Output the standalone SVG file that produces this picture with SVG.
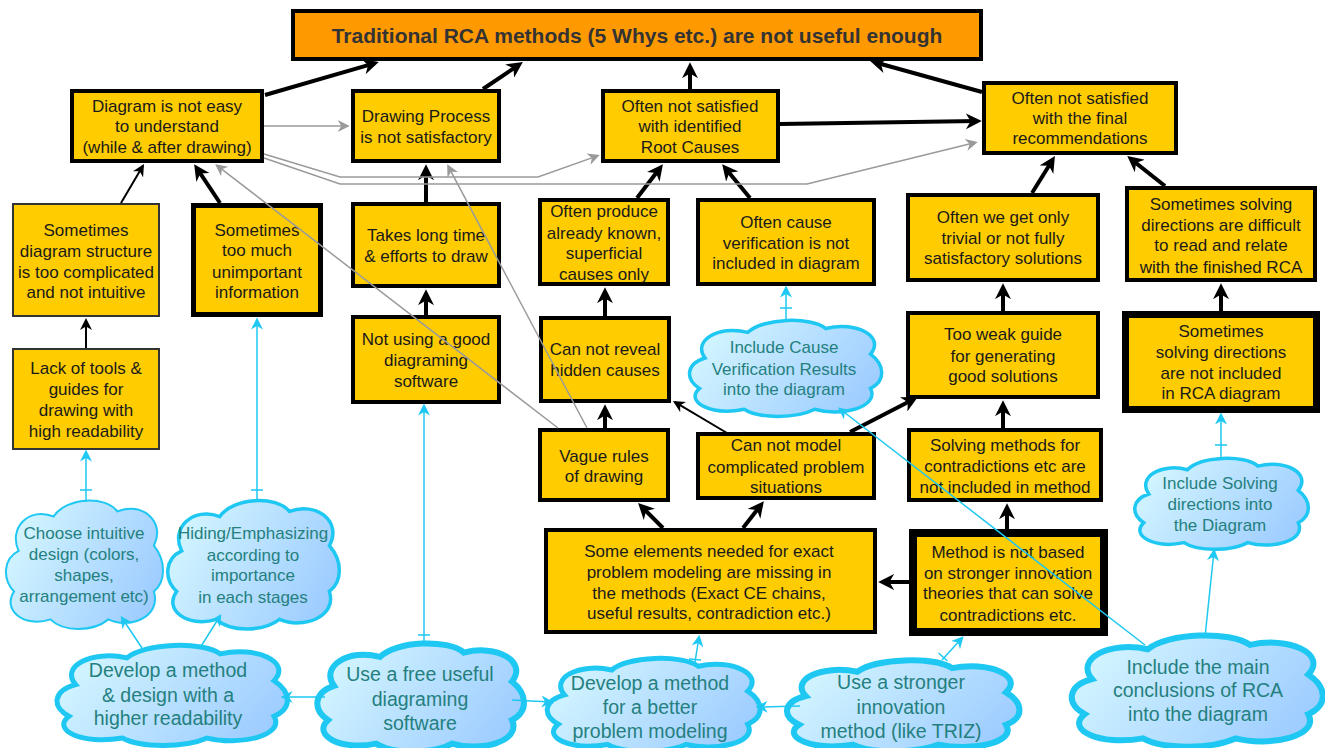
<svg xmlns="http://www.w3.org/2000/svg" xmlns:xlink="http://www.w3.org/1999/xlink" width="1325" height="748" viewBox="0 0 1325 748">
<style>
.bx{fill:#FFCC00;stroke:#000;stroke-width:4}
.thin{stroke:#333;stroke-width:2}
.w5{stroke-width:5}.w7{stroke-width:7}.w8{stroke-width:8}
.title{fill:#FF9900;stroke:#000;stroke-width:4}
text{font-family:"Liberation Sans",Arial,sans-serif;text-anchor:middle}
.t{font-size:17px;fill:#1a1a1a}
.tt{font-size:21px;font-weight:bold;fill:#333}
.ct{font-size:17px;fill:#24807E}
.cb{font-size:19.5px;fill:#24807E}
.cl{fill:url(#cg);stroke:#1EC8F2}
.k{fill:none;stroke:#000;stroke-width:4;marker-end:url(#ab)}
.kt{fill:none;stroke:#000;stroke-width:2;marker-end:url(#at)}
.g{fill:none;stroke:#9a9a9a;stroke-width:1.5;marker-end:url(#ag)}
.c{fill:none;stroke:#1EC8F2;stroke-width:1.5;marker-end:url(#ac)}
.tk{fill:none;stroke:#1EC8F2;stroke-width:1.5}
</style>
<defs>
<linearGradient id="cg" x1="0" y1="0.3" x2="1" y2="0.7">
<stop offset="0" stop-color="#D4F6FF"/>
<stop offset="1" stop-color="#9CCBFF"/>
</linearGradient>
<path id="cloud" vector-effect="non-scaling-stroke" d="M7,40 C0,22 14,5 30,13 C38,-2 64,-4 72,9 C88,1 104,17 96,36 C104,48 104,64 96,72 C101,92 80,102 66,94 C56,104 36,104 28,94 C10,101 -4,86 4,72 C-4,62 -3,46 7,40 Z"/>
<marker id="ab" viewBox="0 0 10 10" refX="7" refY="5" markerWidth="4" markerHeight="4" orient="auto" markerUnits="strokeWidth"><path d="M0,0 L10,5 L0,10 L3,5 Z" fill="#000"/></marker>
<marker id="at" viewBox="0 0 10 10" refX="8" refY="5" markerWidth="6" markerHeight="6" orient="auto" markerUnits="strokeWidth"><path d="M0,0 L10,5 L0,10 L3,5 Z" fill="#000"/></marker>
<marker id="ag" viewBox="0 0 10 10" refX="8" refY="5" markerWidth="9" markerHeight="8" orient="auto" markerUnits="strokeWidth"><path d="M0,0 L10,5 L0,10 L3,5 Z" fill="#9a9a9a"/></marker>
<marker id="ac" viewBox="0 0 10 10" refX="8" refY="5" markerWidth="9" markerHeight="8" orient="auto" markerUnits="strokeWidth"><path d="M0,0 L10,5 L0,10 L3,5 Z" fill="#1EC8F2"/></marker>
</defs>
<rect width="1325" height="748" fill="#fff"/>

<g id="title">
<rect class="title" x="293" y="11" width="688" height="48"/>
<text class="tt" x="637" y="43">Traditional RCA methods (5 Whys etc.) are not useful enough</text>
</g>

<g id="nA"><rect class="bx" x="72" y="91" width="190" height="70"/>
<text class="t"><tspan x="167" y="112">Diagram is not easy</tspan><tspan x="167" y="132">to understand</tspan><tspan x="167" y="153">(while &amp; after drawing)</tspan></text></g>

<g id="nB"><rect class="bx" x="353" y="91" width="146" height="70"/>
<text class="t"><tspan x="426" y="122">Drawing Process</tspan><tspan x="426" y="143">is not satisfactory</tspan></text></g>

<g id="nC"><rect class="bx" x="603" y="91" width="175" height="70"/>
<text class="t"><tspan x="690" y="112">Often not satisfied</tspan><tspan x="690" y="132">with identified</tspan><tspan x="690" y="153">Root Causes</tspan></text></g>

<g id="nD"><rect class="bx" x="984" y="83" width="192" height="70"/>
<text class="t"><tspan x="1080" y="104">Often not satisfied</tspan><tspan x="1080" y="124">with the final</tspan><tspan x="1080" y="144">recommendations</tspan></text></g>

<g id="nE"><rect class="bx thin" x="13" y="204" width="146" height="112"/>
<text class="t"><tspan x="86" y="236">Sometimes</tspan><tspan x="86" y="257">diagram structure</tspan><tspan x="86" y="278">is too complicated</tspan><tspan x="86" y="298">and not intuitive</tspan></text></g>

<g id="nF"><rect class="bx w5" x="193.5" y="205.5" width="127" height="109"/>
<text class="t"><tspan x="257" y="236">Sometimes</tspan><tspan x="257" y="256">too much</tspan><tspan x="257" y="278">unimportant</tspan><tspan x="257" y="298">information</tspan></text></g>

<g id="nG"><rect class="bx" x="353" y="204" width="146" height="82"/>
<text class="t"><tspan x="426" y="241">Takes long time</tspan><tspan x="426" y="262">&amp; efforts to draw</tspan></text></g>

<g id="nH"><rect class="bx" x="540" y="200" width="128" height="84"/>
<text class="t"><tspan x="604" y="217">Often produce</tspan><tspan x="604" y="239">already known,</tspan><tspan x="604" y="259">superficial</tspan><tspan x="604" y="280">causes only</tspan></text></g>

<g id="nI"><rect class="bx" x="698" y="200" width="176" height="84"/>
<text class="t"><tspan x="786" y="228">Often cause</tspan><tspan x="786" y="249">verification is not</tspan><tspan x="786" y="269">included in diagram</tspan></text></g>

<g id="nJ"><rect class="bx" x="908" y="195" width="190" height="85"/>
<text class="t"><tspan x="1003" y="223">Often we get only</tspan><tspan x="1003" y="244">trivial or not fully</tspan><tspan x="1003" y="264">satisfactory solutions</tspan></text></g>

<g id="nK"><rect class="bx" x="1127" y="188" width="188" height="92"/>
<text class="t"><tspan x="1221" y="210">Sometimes solving</tspan><tspan x="1221" y="231">directions are difficult</tspan><tspan x="1221" y="251">to read and relate</tspan><tspan x="1221" y="273">with the finished RCA</tspan></text></g>

<g id="nL"><rect class="bx thin" x="13" y="349" width="146" height="100"/>
<text class="t"><tspan x="86" y="374">Lack of tools &amp;</tspan><tspan x="86" y="395">guides for</tspan><tspan x="86" y="416">drawing with</tspan><tspan x="86" y="437">high readability</tspan></text></g>

<g id="nM"><rect class="bx" x="353" y="317" width="146" height="85"/>
<text class="t"><tspan x="426" y="345">Not using a good</tspan><tspan x="426" y="366">diagraming</tspan><tspan x="426" y="387">software</tspan></text></g>

<g id="nN"><rect class="bx" x="541" y="318" width="128" height="83"/>
<text class="t"><tspan x="605" y="355">Can not reveal</tspan><tspan x="605" y="376">hidden causes</tspan></text></g>

<g id="nP"><rect class="bx" x="908" y="313" width="190" height="84"/>
<text class="t"><tspan x="1003" y="340">Too weak guide</tspan><tspan x="1003" y="362">for generating</tspan><tspan x="1003" y="382">good solutions</tspan></text></g>

<g id="nQ"><rect class="bx w7" x="1125.5" y="314.5" width="191" height="95"/>
<text class="t"><tspan x="1221" y="337">Sometimes</tspan><tspan x="1221" y="358">solving directions</tspan><tspan x="1221" y="379">are not included</tspan><tspan x="1221" y="399">in RCA diagram</tspan></text></g>

<g id="nR"><rect class="bx" x="540" y="430" width="128" height="70"/>
<text class="t"><tspan x="604" y="462">Vague rules</tspan><tspan x="604" y="482">of drawing</tspan></text></g>

<g id="nS"><rect class="bx" x="698" y="434" width="176" height="64"/>
<text class="t"><tspan x="786" y="451">Can not model</tspan><tspan x="786" y="473">complicated problem</tspan><tspan x="786" y="493">situations</tspan></text></g>

<g id="nT"><rect class="bx" x="909" y="430" width="192" height="70"/>
<text class="t"><tspan x="1005" y="451">Solving methods for</tspan><tspan x="1005" y="472">contradictions etc are</tspan><tspan x="1005" y="493">not included in method</tspan></text></g>

<g id="nU"><rect class="bx" x="546" y="530" width="329" height="102"/>
<text class="t"><tspan x="709" y="557">Some elements needed for exact</tspan><tspan x="709" y="578">problem modeling are missing in</tspan><tspan x="709" y="599">the methods (Exact CE chains,</tspan><tspan x="709" y="619">useful results, contradiction etc.)</tspan></text></g>

<g id="nV"><rect class="bx w8" x="913" y="533" width="191" height="99"/>
<text class="t"><tspan x="1008" y="558">Method is not based</tspan><tspan x="1008" y="579">on stronger innovation</tspan><tspan x="1008" y="599">theories that can solve</tspan><tspan x="1008" y="621">contradictions etc.</tspan></text></g>

<g id="cC1"><use xlink:href="#cloud" href="#cloud" class="cl" stroke-width="2" transform="translate(8,500) scale(1.52,1.27)"/>
<text class="ct"><tspan x="84" y="539">Choose intuitive</tspan><tspan x="84" y="560">design (colors,</tspan><tspan x="84" y="581">shapes,</tspan><tspan x="84" y="602">arrangement etc)</tspan></text></g>

<g id="cC2"><use xlink:href="#cloud" href="#cloud" class="cl" stroke-width="3.5" transform="translate(170,500) scale(1.66,1.27)"/>
<text class="ct"><tspan x="253" y="539">Hiding/Emphasizing</tspan><tspan x="253" y="561">according to</tspan><tspan x="253" y="581">importance</tspan><tspan x="253" y="603">in each stages</tspan></text></g>

<g id="cO"><use xlink:href="#cloud" href="#cloud" class="cl" stroke-width="3.5" transform="translate(692,320) scale(1.86,0.95)"/>
<text class="ct"><tspan x="784" y="353">Include Cause</tspan><tspan x="784" y="375">Verification Results</tspan><tspan x="784" y="395">into the diagram</tspan></text></g>

<g id="cC8"><use xlink:href="#cloud" href="#cloud" class="cl" stroke-width="3.5" transform="translate(1137,458) scale(1.68,0.9)"/>
<text class="ct"><tspan x="1220" y="489">Include Solving</tspan><tspan x="1220" y="510">directions into</tspan><tspan x="1220" y="531">the Diagram</tspan></text></g>

<g id="cC3"><use xlink:href="#cloud" href="#cloud" class="cl" stroke-width="5" transform="translate(60,645) scale(2.23,0.99)"/>
<text class="cb"><tspan x="168" y="677">Develop a method</tspan><tspan x="168" y="702">&amp; design with a</tspan><tspan x="168" y="725">higher readability</tspan></text></g>

<g id="cC4"><use xlink:href="#cloud" href="#cloud" class="cl" stroke-width="6" transform="translate(320,643) scale(2.0,1.07)"/>
<text class="cb"><tspan x="420" y="681">Use a free useful</tspan><tspan x="420" y="706">diagraming</tspan><tspan x="420" y="730">software</tspan></text></g>

<g id="cC5"><use xlink:href="#cloud" href="#cloud" class="cl" stroke-width="5" transform="translate(550,658) scale(2.06,0.92)"/>
<text class="cb"><tspan x="650" y="690">Develop a method</tspan><tspan x="650" y="714">for a better</tspan><tspan x="650" y="738">problem modeling</tspan></text></g>

<g id="cC6"><use xlink:href="#cloud" href="#cloud" class="cl" stroke-width="6" transform="translate(790,660) scale(2.25,0.9)"/>
<text class="cb"><tspan x="901" y="689">Use a stronger</tspan><tspan x="901" y="714">innovation</tspan><tspan x="901" y="738">method (like TRIZ)</tspan></text></g>

<g id="cC7"><use xlink:href="#cloud" href="#cloud" class="cl" stroke-width="6" transform="translate(1075,635) scale(2.43,1.1)"/>
<text class="cb"><tspan x="1198" y="674">Include the main</tspan><tspan x="1198" y="697">conclusions of RCA</tspan><tspan x="1198" y="721">into the diagram</tspan></text></g>

<g id="connectors">
<path class="k" d="M265,95 L374.2,63.4"/>
<path class="k" d="M483,89 L518.9,64.8"/>
<path class="k" d="M690,89 L690,67"/>
<path class="k" d="M982,92 L874.8,62.3"/>
<path class="k" d="M780,124 L977,121.1"/>
<path class="k" d="M220,203 L196.8,168.2"/>
<path class="k" d="M426,202 L426,169"/>
<path class="k" d="M426,315 L426,294"/>
<path class="k" d="M637,198 L660,168"/>
<path class="k" d="M750,198 L725.2,167.9"/>
<path class="k" d="M605,316 L605,292"/>
<path class="k" d="M605,428 L605,409"/>
<path class="k" d="M850,432 L913.6,399.3"/>
<path class="k" d="M663,528 L641.5,506.5"/>
<path class="k" d="M743,528 L760.9,505"/>
<path class="k" d="M909,582 L883,582"/>
<path class="k" d="M1007,529 L1007,508"/>
<path class="k" d="M1003,428 L1003,405"/>
<path class="k" d="M1003,311 L1003,288"/>
<path class="k" d="M1032,193 L1052.4,160.2"/>
<path class="k" d="M1165,186 L1131,159.1"/>
<path class="k" d="M1221,311 L1221,288"/>
<path class="kt" d="M121,203 L142.8,166.1"/>
<path class="kt" d="M727,433 L675,402.2"/>
<path class="kt" d="M86,348 L86,320.4"/>
<path class="g" d="M264,126 L347.3,126"/>
<path class="g" d="M264,154 L340,177 L538,177 L597.5,155.9"/>
<path class="g" d="M264,158 L340,184 L807,184 L975.4,142.6"/>
<path class="g" d="M558,428 L217.1,165.6"/>
<path class="g" d="M587,428 L448.3,166.4"/>
<path class="c" d="M86,502 L86,452"/>
<path class="c" d="M257,502 L257,320"/>
<path class="c" d="M424,645 L424,406"/>
<path class="c" d="M786,322 L786,288"/>
<path class="c" d="M695,662 L699,637"/>
<path class="c" d="M942,660 L962,638"/>
<path class="c" d="M1221,460 L1221,415"/>
<path class="c" d="M1205,637 L1214,551"/>
<path class="c" d="M1145,645 L840,409"/>
<path class="c" d="M142,648 L122,618"/>
<path class="c" d="M200,648 L220,616"/>
<path class="c" d="M325,697 L283,697"/>
<path class="c" d="M512,700 L551,702"/>
<path class="c" d="M800,706 L758,707"/>
<path class="tk" d="M80,490 L92,490 M251,490 L263,490 M418,635 L430,635 M780,308 L792,308 M689,659 L701,660 M938.6,653 L947.4,661 M1215,445 L1227,445"/>
</g>
</svg>
